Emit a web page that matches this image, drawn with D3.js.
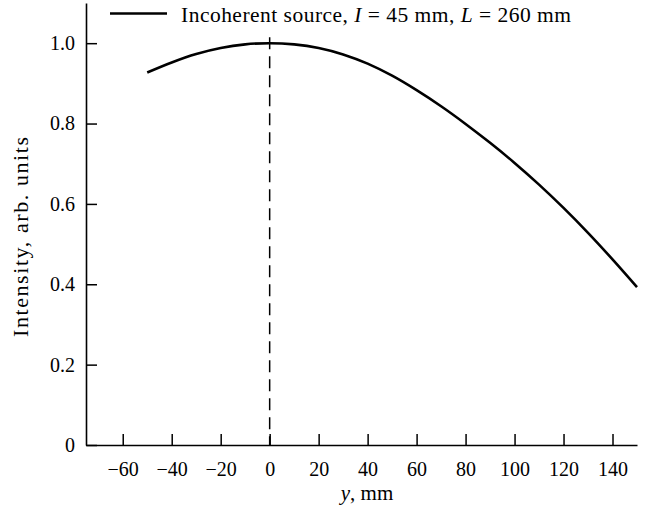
<!DOCTYPE html>
<html>
<head>
<meta charset="utf-8">
<script src="https://cdn.jsdelivr.net/npm/d3@7"></script>
<style>
  body { margin: 0; background: #fff; }
  svg text { font-family: "Liberation Serif", "Times New Roman", serif; fill: #000; }
</style>
</head>
<body>
<div id="graphics"></div>
<script>
// curve (y in mm, intensity in arb. units)
const yPos = [-50, -40, -30, -20, -10, 0, 10, 20, 30, 40, 50, 60, 70, 80, 90, 100, 110, 120, 130, 140, 150];
const intensity = [0.927, 0.952, 0.973, 0.988, 0.997, 1.0, 0.997, 0.988, 0.972, 0.949, 0.919, 0.883, 0.843, 0.799, 0.752, 0.702, 0.648, 0.590, 0.528, 0.462, 0.393];
const xTicks = [-60, -40, -20, 0, 20, 40, 60, 80, 100, 120, 140];
const yTicks = [0, 0.2, 0.4, 0.6, 0.8, 1.0];

const width = 648, height = 509;

let svg = d3.select("#graphics")
    .append("svg")
    .attr("width", width)
    .attr("height", height);

let x = d3.scaleLinear().domain([-75, 150]).range([86, 637]);
let y = d3.scaleLinear().domain([0, 1.1]).range([445, 3]);

// axes, ticks pointing inward
let xAxis = d3.axisBottom(x)
    .tickValues(xTicks)
    .tickSize(-11)
    .tickPadding(16.5)
    .tickSizeOuter(0);

let yAxis = d3.axisLeft(y)
    .tickValues(yTicks)
    .tickSize(-11)
    .tickPadding(11)
    .tickSizeOuter(0)
    .tickFormat(d => d === 0 ? "0" : d3.format(".1f")(d));

let gx = svg.append("g")
    .attr("transform", "translate(0," + y(0) + ")")
    .call(xAxis);

let gy = svg.append("g")
    .attr("transform", "translate(" + x(-75) + ",0)")
    .call(yAxis);

[gx, gy].forEach(g => {
    g.selectAll("path.domain").attr("stroke", "#000").attr("stroke-width", 1.6);
    g.selectAll(".tick line").attr("stroke", "#000").attr("stroke-width", 1.5);
    g.selectAll(".tick text")
        .style("font-family", "'Liberation Serif', 'Times New Roman', serif")
        .style("font-size", "20px")
        .attr("fill", "#000");
});

// dashed line at y = 0
svg.append("line")
    .attr("x1", x(0)).attr("x2", x(0))
    .attr("y1", y(1.015)).attr("y2", y(0))
    .attr("stroke", "#000")
    .attr("stroke-width", 1.5)
    .attr("stroke-dasharray", "12,7");

// the curve
let data = yPos.map((d, i) => ({ x: d, v: intensity[i] }));
let line = d3.line()
    .x(d => x(d.x))
    .y(d => y(d.v))
    .curve(d3.curveMonotoneX);

svg.append("path")
    .datum(data)
    .attr("fill", "none")
    .attr("stroke", "#000")
    .attr("stroke-width", 2.6)
    .attr("d", line);

// axis titles
svg.append("text")
    .attr("x", 367)
    .attr("y", 500)
    .attr("text-anchor", "middle")
    .style("font-size", "21px")
    .html('<tspan font-style="italic">y</tspan>, mm');

svg.append("text")
    .attr("transform", "translate(28,237) rotate(-90)")
    .attr("text-anchor", "middle")
    .attr("textLength", 200)
    .attr("lengthAdjust", "spacing")
    .style("font-size", "22px")
    .text("Intensity, arb. units");

// legend
svg.append("line")
    .attr("x1", 110).attr("x2", 167)
    .attr("y1", 13.5).attr("y2", 13.5)
    .attr("stroke", "#000")
    .attr("stroke-width", 2.6);

svg.append("text")
    .attr("x", 181)
    .attr("y", 21.5)
    .attr("textLength", 390)
    .attr("lengthAdjust", "spacing")
    .style("font-size", "21.5px")
    .html('Incoherent source, <tspan font-style="italic">I</tspan> = 45 mm, <tspan font-style="italic">L</tspan> = 260 mm');
</script>
</body>
</html>
